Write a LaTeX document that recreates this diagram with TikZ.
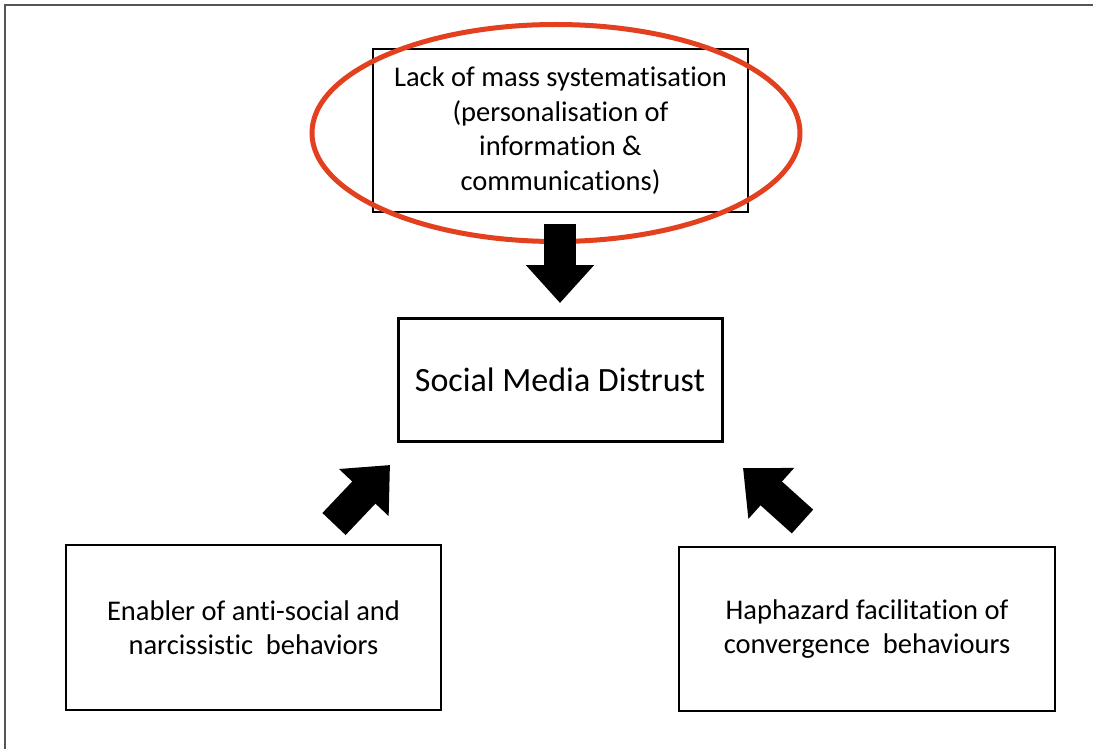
\documentclass[tikz,border=0pt]{standalone}
\usepackage{fontspec}
\setmainfont[RawFeature=-liga]{Carlito}
\usetikzlibrary{arrows.meta,shapes.geometric}
\definecolor{hlred}{HTML}{E2401F}
\definecolor{framegray}{HTML}{555555}
\tikzset{
  box/.style={draw=black, line width=1.6pt, align=center, inner sep=0pt,
              font=\fontsize{28.5}{34.5}\selectfont},
  bigarrow/.style={line width=32pt, -{Triangle[length=38pt,width=66pt]}},
}
\begin{document}
\begin{tikzpicture}[x=1pt,y=-1pt]
\useasboundingbox (0,0) rectangle (1093,749);
\fill[white] (0,0) rectangle (1093,749);
% outer frame (top and left edges visible)
\coordinate (fTR) at (1100,5);
\coordinate (fTL) at (5,5);
\coordinate (fBL) at (5,760);
\draw[framegray, line width=2pt] (fTR) -- (fTL) -- (fBL);

\node[box, minimum width=375pt, minimum height=163pt] (top) at (560.5,130.5)
  {Lack of mass systematisation\\(personalisation of\\information \&\\communications)};
\node[box, line width=3pt, minimum width=324pt, minimum height=123pt,
      font=\fontsize{34}{40}\selectfont] (mid) at (560,379.5) {Social Media Distrust};
\node[box, minimum width=375pt, minimum height=165pt] (left) at (253.5,627.5)
  {Enabler of anti-social and\\narcissistic\ \ behaviors};
\node[box, minimum width=376pt, minimum height=164pt] (right) at (867,629)
  {Haphazard facilitation of\\convergence\ \ behaviours};

\node[ellipse, draw=hlred, line width=5pt, minimum width=488pt, minimum height=217pt,
      inner sep=0pt] (hl) at (556,133) {};

% block arrows
\coordinate (dT) at (560,224);
\coordinate (dH) at (560,303);
\coordinate (lT) at (334,524);
\coordinate (lH) at (390,465);
\coordinate (rT) at (802.5,521.5);
\coordinate (rH) at (743,468);
\draw[bigarrow] (dT) -- (dH);
\draw[bigarrow] (lT) -- (lH);
\draw[bigarrow] (rT) -- (rH);
\end{tikzpicture}
\end{document}
